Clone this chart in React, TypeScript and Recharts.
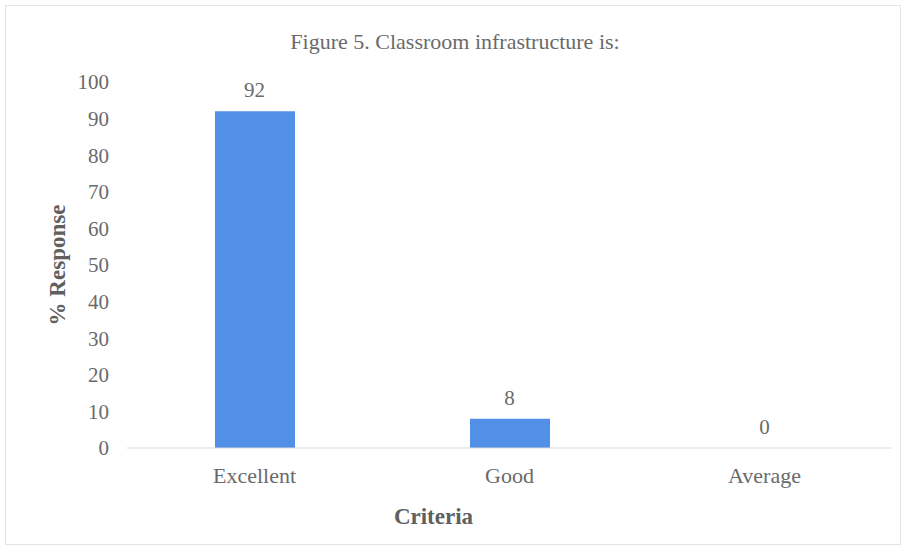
import React from "react";
import { ComposedChart, Bar, Line, XAxis, YAxis, LabelList, Label } from "recharts";

const categories = ["Excellent", "Good", "Average"];
const responses = [92, 8, 0];
const yTicks = [0, 10, 20, 30, 40, 50, 60, 70, 80, 90, 100];

const data = categories.map((c, i) => ({ name: c, value: responses[i] }));

const FONT = "'Liberation Serif', 'Times New Roman', serif";
const TEXT = "#6a6a6a";
const TITLE_TEXT = "#606060";

export default function App() {
  return (
    <div style={{ position: "absolute", left: 0, top: 0, width: 906, height: 551, background: "#fff", fontFamily: FONT }}>
      <div style={{ position: "absolute", left: 5, top: 5, width: 894, height: 538, border: "1px solid #e4e4e4" }} />
      <div style={{ position: "absolute", left: 0, top: 29, width: 910, textAlign: "center", fontSize: 22, lineHeight: "26px", color: TEXT, fontFamily: FONT }}>
        Figure 5. Classroom infrastructure  is:
      </div>
      <ComposedChart
        width={906}
        height={551}
        data={data}
        margin={{ top: 82, right: 14, bottom: 73, left: 67 }}
        style={{ position: "absolute", left: 0, top: 0 }}
      >
        <XAxis
          dataKey="name"
          axisLine={{ stroke: "#d9d9d9" }}
          tickLine={false}
          tickMargin={13}
          height={30}
          tick={{ fill: TEXT, fontSize: 22, fontFamily: FONT }}
        >
          <Label value="Criteria" position="bottom" offset={30} dx={-76} style={{ fill: TITLE_TEXT, fontSize: 23, fontWeight: "bold", fontFamily: FONT }} />
        </XAxis>
        <YAxis
          domain={[0, 100]}
          ticks={yTicks}
          interval={0}
          axisLine={false}
          tickLine={false}
          width={60}
          tickMargin={12}
          tick={{ fill: TEXT, fontSize: 21, fontFamily: FONT }}
        >
          <Label value="% Response" angle={-90} position="center" dx={-40} style={{ fill: TITLE_TEXT, fontSize: 23, fontWeight: "bold", fontFamily: FONT, textAnchor: "middle" }} />
        </YAxis>
        <Bar dataKey="value" fill="#5290e7" barSize={80} isAnimationActive={false} />
        <Line dataKey="value" stroke="none" dot={false} activeDot={false} isAnimationActive={false}>
          <LabelList dataKey="value" position="top" offset={14} style={{ fill: TEXT, fontSize: 21, fontFamily: FONT }} />
        </Line>
      </ComposedChart>
    </div>
  );
}
